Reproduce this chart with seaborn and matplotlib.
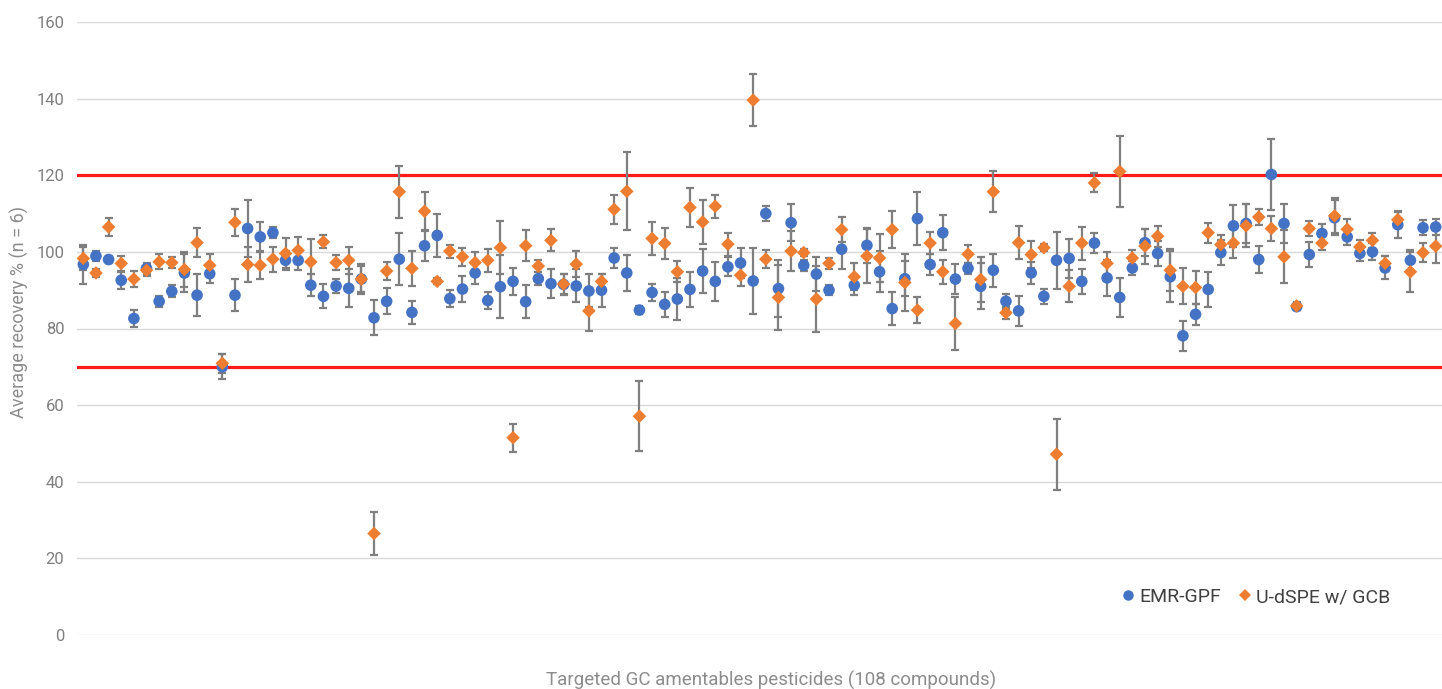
import numpy as np
import pandas as pd
import matplotlib
matplotlib.use("Agg")
import matplotlib.pyplot as plt
import seaborn as sns

# 108 compounds, mean recovery (%) and SD (n = 6)
emr_mean = [96.7, 98.9, 98.0, 92.6, 82.6, 95.7, 87.1, 89.7, 94.5, 88.7,
            94.3, 70.0, 88.7, 106.1, 103.9, 105.0, 97.8, 97.8, 91.3, 88.4,
            91.1, 90.5, 92.9, 82.8, 87.1, 98.1, 84.2, 101.6, 104.3, 87.8,
            90.3, 94.5, 87.3, 90.9, 92.3, 87.0, 93.0, 91.7, 91.5, 91.1,
            89.8, 90.0, 98.4, 94.5, 84.8, 89.4, 86.3, 87.7, 90.2, 95.0,
            92.3, 96.1, 97.1, 92.4, 110.0, 90.4, 107.6, 96.5, 94.2, 90.0,
            100.7, 91.3, 101.7, 94.8, 85.2, 93.0, 108.7, 96.7, 105.0, 92.9,
            95.7, 91.0, 95.2, 87.1, 84.6, 94.5, 88.4, 97.8, 98.3, 92.3,
            102.3, 93.2, 88.1, 95.8, 102.4, 99.6, 93.5, 78.1, 83.7, 90.2,
            99.8, 106.8, 107.4, 98.0, 120.2, 107.4, 85.7, 99.3, 104.8, 108.9,
            103.9, 99.6, 100.0, 95.8, 107.1, 97.8, 106.3, 106.5]
emr_sd = [5.0, 1.3, 0.8, 2.2, 2.2, 1.5, 1.5, 1.6, 5.0, 5.4,
          2.5, 3.3, 4.1, 7.4, 4.0, 1.5, 2.5, 2.5, 2.8, 3.1,
          1.9, 5.0, 3.5, 4.6, 3.4, 6.7, 2.9, 3.9, 5.6, 2.2,
          3.3, 2.8, 2.3, 8.2, 3.6, 4.3, 1.7, 3.8, 2.8, 4.3,
          4.3, 4.3, 2.5, 4.6, 1.0, 2.2, 3.2, 5.6, 4.6, 5.8,
          5.1, 2.5, 4.0, 8.7, 2.0, 7.4, 4.8, 1.5, 4.5, 1.3,
          5.2, 2.6, 4.5, 5.3, 4.2, 4.5, 7.0, 2.8, 4.6, 4.0,
          1.5, 6.0, 4.3, 2.0, 3.9, 2.8, 2.0, 7.4, 5.0, 3.2,
          2.7, 4.6, 5.2, 1.8, 3.5, 3.2, 6.7, 3.9, 2.8, 4.6,
          3.2, 5.4, 5.2, 3.5, 9.2, 5.0, 1.0, 3.2, 2.6, 4.6,
          2.0, 2.0, 2.2, 3.0, 3.4, 2.8, 2.0, 2.0]
udspe_mean = [98.3, 94.5, 106.5, 97.0, 92.9, 95.2, 97.4, 97.2, 95.4, 102.4,
              96.5, 70.9, 107.7, 96.7, 96.5, 98.1, 99.6, 100.4, 97.4, 102.6,
              97.2, 97.8, 92.9, 26.5, 95.0, 115.7, 95.7, 110.6, 92.3, 100.2,
              98.7, 97.2, 97.8, 101.1, 51.5, 101.6, 96.3, 103.0, 91.6, 96.8,
              84.6, 92.3, 111.1, 115.8, 57.1, 103.5, 102.2, 94.8, 111.6, 107.8,
              111.9, 102.0, 93.9, 139.6, 98.1, 88.1, 100.2, 99.8, 87.7, 97.0,
              105.8, 93.5, 98.9, 98.4, 105.8, 92.0, 84.8, 102.3, 94.8, 81.3,
              99.4, 92.8, 115.7, 84.1, 102.4, 99.3, 101.1, 47.2, 91.0, 102.3,
              118.0, 97.0, 121.0, 98.4, 101.5, 104.1, 95.2, 91.0, 90.7, 105.0,
              101.9, 102.3, 106.8, 109.1, 106.1, 98.7, 85.9, 106.1, 102.3, 109.4,
              105.9, 101.3, 103.0, 97.0, 108.4, 94.8, 99.8, 101.5]
udspe_sd = [3.0, 1.0, 2.4, 2.0, 2.1, 1.5, 2.0, 1.5, 4.5, 3.8,
            3.0, 2.5, 3.5, 4.5, 3.7, 3.3, 3.9, 3.5, 6.0, 1.7,
            2.0, 3.5, 4.0, 5.7, 2.3, 6.8, 4.6, 4.9, 0.8, 1.7,
            2.3, 2.8, 3.0, 7.0, 3.7, 4.1, 1.5, 2.9, 2.5, 3.4,
            5.3, 2.0, 3.7, 10.2, 9.2, 4.4, 4.0, 2.7, 5.1, 5.7,
            3.0, 3.0, 2.7, 6.8, 2.3, 8.5, 5.3, 1.0, 8.6, 1.4,
            3.2, 3.5, 7.0, 6.3, 4.8, 7.5, 3.3, 2.8, 3.2, 6.8,
            2.3, 5.8, 5.4, 1.5, 4.3, 3.5, 1.0, 9.3, 4.2, 4.3,
            2.5, 3.0, 9.3, 2.0, 4.6, 2.7, 5.5, 4.7, 4.2, 2.6,
            2.5, 3.8, 5.6, 2.0, 3.3, 6.9, 1.0, 2.0, 1.8, 4.6,
            2.8, 1.8, 2.0, 2.0, 2.2, 5.2, 2.5, 4.5]

methods = ["EMR-GPF", "U-dSPE w/ GCB"]
limits = [70, 120]
y_ticks = list(range(0, 161, 20))

compound = np.arange(len(emr_mean))
df = pd.DataFrame({
    "compound": np.concatenate([compound, compound]),
    "recovery": emr_mean + udspe_mean,
    "sd": emr_sd + udspe_sd,
    "method": [methods[0]] * len(emr_mean) + [methods[1]] * len(udspe_mean),
})

sns.set_theme(style="white")
plt.rcParams["font.family"] = ["Roboto", "DejaVu Sans"]

fig = plt.figure(figsize=(14.42, 6.89), dpi=100)
ax = fig.add_axes([77 / 1442, 1 - 635 / 689, 1 - 77 / 1442, (635 - 22) / 689])

# 許容範囲の赤線
for lim in limits:
    ax.axhline(lim, color="#ff1a1a", lw=2.3, zorder=2)

# error bars under the markers
for m in methods:
    sub = df[df["method"] == m]
    ax.errorbar(sub["compound"], sub["recovery"], yerr=sub["sd"], fmt="none",
                ecolor="#7f7f7f", elinewidth=1.6, capsize=3.0, capthick=1.6,
                zorder=3)

sns.scatterplot(data=df, x="compound", y="recovery", hue="method", style="method",
                hue_order=methods, style_order=methods,
                palette={methods[0]: "#4472c4", methods[1]: "#ed7d31"},
                markers={methods[0]: "o", methods[1]: "D"},
                size="method", sizes={methods[0]: 70, methods[1]: 48},
                linewidth=0, ax=ax, zorder=4)

ax.set_xlim(-0.5, 107.5)
ax.set_ylim(0, 160)
ax.set_yticks(y_ticks)
ax.set_xticks([])
ax.yaxis.grid(True, color="#d9d9d9", lw=1.0)
ax.set_axisbelow(True)
for s in ax.spines.values():
    s.set_visible(False)
ax.tick_params(axis="y", length=0, pad=9, labelsize=12, labelcolor="#7f7f7f")
ax.set_xlabel("")
ax.set_ylabel("")

fig.text(19 / 1442, 1 - 312 / 689, "Average recovery % (n = 6)", rotation=90,
         ha="center", va="center", fontsize=13, color="#8c8c8c")
fig.text(771 / 1442, 1 - 680 / 689, "Targeted GC amentables pesticides (108 compounds)",
         ha="center", va="center", fontsize=13.5, color="#8c8c8c")

handles, labels = ax.get_legend_handles_labels()
keep = [(h, l) for h, l in zip(handles, labels) if l in methods][:2]
ax.legend([h for h, _ in keep], [l for _, l in keep], loc="center right",
          bbox_to_anchor=(1408 / 1442, 1 - 597 / 689), bbox_transform=fig.transFigure,
          ncol=2, frameon=False, fontsize=14, handletextpad=0.1, handlelength=1.0,
          columnspacing=0.7, labelcolor="#404040", markerscale=0.9)

fig.savefig("out.png", dpi=100)
